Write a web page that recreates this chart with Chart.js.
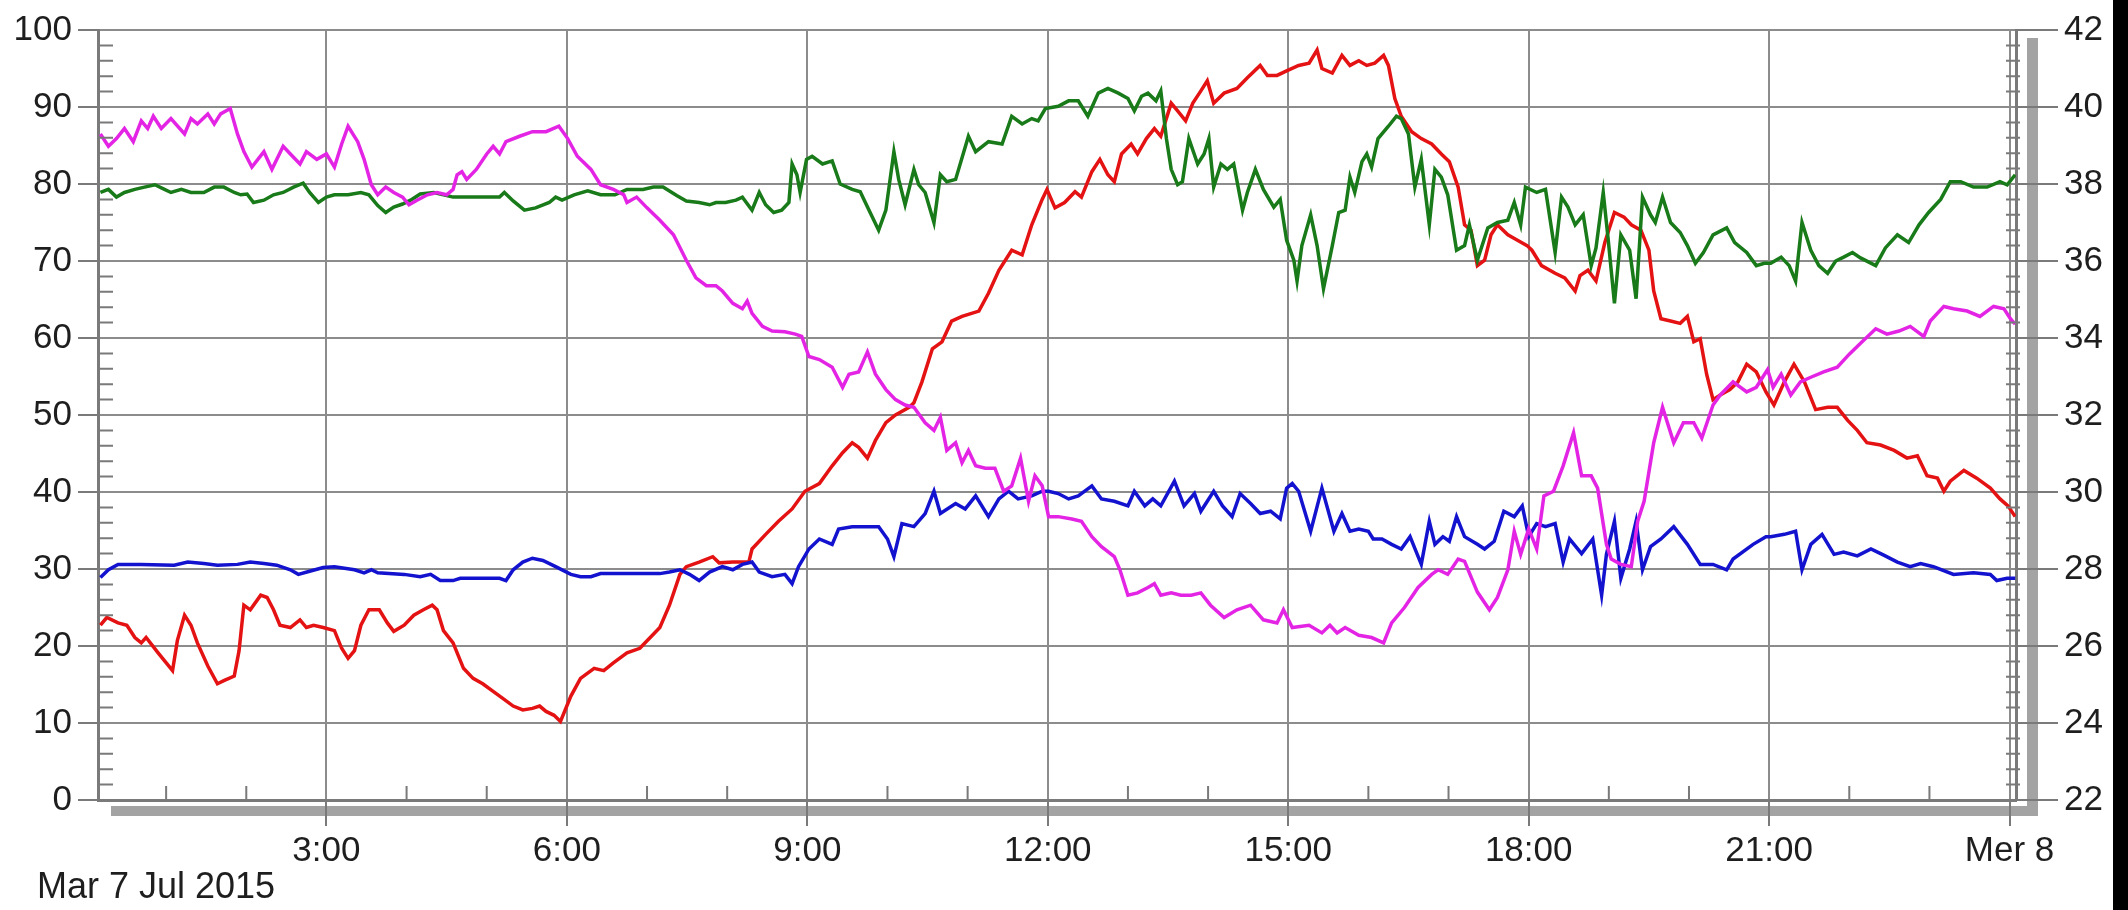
<!DOCTYPE html>
<html>
<head>
<meta charset="utf-8">
<script src="https://cdn.jsdelivr.net/npm/chart.js@4.4.1/dist/chart.umd.min.js"></script>
<style>
  html, body { margin: 0; padding: 0; background: #fff; }
  #wrap { width: 2128px; height: 910px; }
</style>
</head>
<body>
<div id="wrap"><canvas id="lineChart" width="2128" height="910"></canvas></div>
<script>
// hours of the day (0 = Mar 7 00:00, 24 = Mer 8 00:00) and the values
const hourTicks = [3, 6, 9, 12, 15, 18, 21, 24];
const leftTicks = [0, 10, 20, 30, 40, 50, 60, 70, 80, 90, 100];
const rightTicks = [22, 24, 26, 28, 30, 32, 34, 36, 38, 40, 42];
const dateLabel = 'Mar 7 Jul 2015';

const magenta = [[0.18,86.5],[0.28,84.9],[0.38,85.9],[0.48,87.2],[0.59,85.5],[0.69,88.2],[0.77,87.2],[0.84,88.8],[0.94,87.2],[1.06,88.5],[1.23,86.5],[1.31,88.5],[1.39,87.8],[1.52,89.1],[1.60,87.8],[1.68,89.1],[1.80,89.8],[1.89,86.5],[1.97,84.2],[2.07,82.2],[2.22,84.2],[2.32,81.9],[2.46,84.9],[2.55,83.9],[2.67,82.6],[2.75,84.2],[2.88,83.2],[3.00,83.9],[3.10,82.2],[3.19,85.2],[3.27,87.5],[3.39,85.5],[3.47,83.2],[3.56,79.9],[3.64,78.6],[3.74,79.6],[3.84,78.9],[3.95,78.3],[4.03,77.3],[4.13,77.9],[4.26,78.6],[4.38,78.9],[4.50,78.6],[4.58,79.3],[4.63,81.2],[4.69,81.6],[4.75,80.6],[4.87,81.9],[5.00,83.9],[5.08,84.9],[5.16,83.9],[5.24,85.5],[5.41,86.2],[5.57,86.8],[5.74,86.8],[5.90,87.5],[6.01,85.9],[6.13,83.6],[6.30,81.9],[6.42,79.9],[6.58,79.3],[6.71,78.6],[6.75,77.6],[6.87,78.3],[7.00,76.9],[7.16,75.3],[7.33,73.4],[7.49,70.1],[7.61,67.8],[7.74,66.8],[7.86,66.8],[7.94,66.1],[8.07,64.5],[8.19,63.8],[8.25,64.8],[8.31,63.2],[8.44,61.5],[8.56,60.9],[8.72,60.8],[8.85,60.5],[8.93,60.2],[9.02,57.6],[9.15,57.2],[9.31,56.2],[9.44,53.6],[9.52,55.3],[9.64,55.6],[9.75,58.2],[9.85,55.3],[9.98,53.3],[10.10,52.0],[10.22,51.3],[10.33,51.0],[10.47,49.0],[10.58,48.0],[10.66,49.7],[10.74,45.4],[10.85,46.4],[10.93,43.8],[11.01,45.4],[11.10,43.4],[11.22,43.1],[11.34,43.1],[11.45,40.1],[11.55,40.8],[11.66,44.4],[11.76,38.8],[11.84,42.1],[11.93,40.8],[12.01,36.8],[12.13,36.8],[12.30,36.5],[12.42,36.2],[12.55,34.2],[12.67,32.9],[12.83,31.6],[12.90,29.9],[13.00,26.6],[13.12,26.9],[13.25,27.6],[13.33,28.1],[13.41,26.6],[13.54,26.9],[13.66,26.6],[13.79,26.6],[13.91,26.9],[14.03,25.3],[14.20,23.7],[14.36,24.7],[14.53,25.3],[14.69,23.4],[14.86,23.0],[14.94,24.7],[15.05,22.4],[15.26,22.7],[15.42,21.7],[15.52,22.7],[15.61,21.7],[15.71,22.4],[15.88,21.4],[16.04,21.1],[16.19,20.4],[16.29,23.0],[16.45,25.0],[16.62,27.6],[16.79,29.3],[16.87,29.9],[16.99,29.3],[17.12,31.3],[17.20,31.0],[17.36,27.0],[17.51,24.7],[17.61,26.3],[17.74,29.9],[17.82,34.9],[17.90,31.9],[18.00,35.2],[18.10,32.6],[18.19,39.5],[18.31,40.1],[18.43,43.4],[18.56,47.7],[18.66,42.1],[18.78,42.1],[18.86,40.5],[18.97,33.2],[19.03,31.3],[19.15,30.6],[19.28,30.3],[19.36,36.2],[19.44,38.8],[19.56,46.4],[19.67,51.0],[19.81,46.4],[19.93,49.0],[20.06,49.0],[20.16,47.0],[20.30,51.3],[20.39,52.6],[20.55,54.3],[20.72,53.0],[20.84,53.6],[20.98,55.9],[21.05,53.6],[21.15,55.3],[21.27,52.6],[21.39,54.3],[21.52,54.9],[21.68,55.6],[21.85,56.2],[22.00,57.9],[22.16,59.5],[22.33,61.2],[22.47,60.5],[22.62,60.9],[22.76,61.5],[22.93,60.2],[23.01,62.2],[23.18,64.1],[23.30,63.8],[23.47,63.5],[23.63,62.8],[23.80,64.1],[23.93,63.8],[24.01,62.5],[24.07,61.8]];

const green = [[0.18,78.9],[0.28,79.3],[0.38,78.3],[0.48,78.9],[0.61,79.3],[0.73,79.6],[0.86,79.9],[0.96,79.4],[1.06,78.9],[1.19,79.3],[1.31,78.9],[1.47,78.9],[1.60,79.6],[1.72,79.6],[1.85,78.9],[1.93,78.6],[2.01,78.7],[2.09,77.6],[2.22,77.9],[2.34,78.6],[2.46,78.9],[2.59,79.6],[2.71,80.1],[2.79,78.9],[2.90,77.6],[3.00,78.3],[3.10,78.6],[3.27,78.6],[3.43,78.9],[3.53,78.6],[3.64,77.2],[3.74,76.3],[3.84,77.0],[3.95,77.4],[4.05,77.9],[4.17,78.7],[4.34,78.9],[4.46,78.6],[4.58,78.3],[4.79,78.3],[5.00,78.3],[5.16,78.3],[5.22,78.9],[5.33,77.8],[5.47,76.6],[5.61,76.9],[5.78,77.6],[5.86,78.3],[5.94,77.9],[6.09,78.6],[6.26,79.1],[6.42,78.6],[6.60,78.6],[6.75,79.3],[6.95,79.3],[7.08,79.6],[7.20,79.6],[7.37,78.5],[7.49,77.8],[7.65,77.6],[7.78,77.3],[7.86,77.6],[7.98,77.6],[8.11,77.9],[8.19,78.3],[8.31,76.6],[8.40,78.9],[8.48,77.3],[8.58,76.3],[8.68,76.6],[8.77,77.6],[8.81,82.6],[8.87,81.2],[8.91,78.9],[8.99,83.2],[9.06,83.6],[9.19,82.6],[9.31,83.0],[9.41,80.0],[9.56,79.3],[9.66,79.0],[9.77,76.6],[9.89,74.0],[9.98,76.6],[10.08,84.2],[10.14,80.6],[10.22,77.3],[10.33,81.9],[10.39,79.9],[10.47,78.9],[10.58,75.0],[10.66,81.2],[10.74,80.3],[10.85,80.6],[11.01,86.2],[11.10,84.2],[11.26,85.5],[11.43,85.2],[11.55,88.8],[11.68,87.8],[11.80,88.5],[11.88,88.2],[11.97,89.8],[12.13,90.1],[12.26,90.8],[12.38,90.8],[12.50,88.8],[12.63,91.8],[12.75,92.4],[12.88,91.8],[13.00,91.1],[13.08,89.5],[13.17,91.4],[13.25,91.8],[13.35,90.8],[13.41,92.1],[13.48,85.9],[13.54,81.9],[13.62,79.9],[13.68,80.3],[13.76,85.9],[13.87,82.6],[13.95,83.9],[14.01,85.9],[14.07,79.6],[14.16,82.6],[14.24,81.9],[14.32,82.6],[14.43,76.6],[14.49,78.9],[14.59,81.9],[14.69,79.3],[14.82,77.0],[14.90,78.0],[14.98,72.7],[15.07,70.1],[15.11,67.4],[15.17,72.0],[15.28,76.0],[15.36,72.0],[15.44,66.4],[15.55,72.0],[15.63,76.3],[15.71,76.6],[15.77,80.9],[15.83,78.9],[15.92,82.9],[15.98,83.9],[16.04,82.2],[16.12,85.9],[16.25,87.5],[16.35,88.8],[16.41,88.5],[16.50,86.5],[16.58,79.6],[16.66,83.2],[16.76,74.7],[16.83,81.9],[16.91,80.9],[16.99,78.6],[17.10,71.4],[17.20,72.0],[17.26,74.7],[17.36,70.1],[17.49,74.3],[17.61,75.0],[17.74,75.3],[17.82,77.6],[17.90,74.7],[17.96,79.6],[18.10,78.9],[18.21,79.3],[18.33,71.1],[18.41,78.3],[18.49,77.0],[18.58,74.7],[18.68,76.0],[18.78,69.4],[18.84,71.7],[18.93,78.9],[18.99,73.0],[19.07,64.5],[19.15,73.4],[19.26,71.4],[19.34,65.1],[19.42,78.3],[19.52,76.0],[19.58,75.0],[19.67,78.3],[19.77,75.0],[19.89,73.7],[19.98,72.0],[20.08,69.7],[20.18,71.1],[20.30,73.4],[20.47,74.3],[20.57,72.4],[20.72,71.1],[20.84,69.4],[20.94,69.7],[21.02,69.7],[21.15,70.5],[21.25,69.4],[21.33,67.4],[21.41,75.0],[21.52,71.4],[21.62,69.4],[21.73,68.4],[21.83,70.0],[21.93,70.5],[22.04,71.1],[22.14,70.4],[22.33,69.4],[22.45,71.7],[22.60,73.4],[22.74,72.4],[22.87,74.7],[22.99,76.3],[23.14,78.0],[23.26,80.3],[23.39,80.3],[23.55,79.6],[23.72,79.6],[23.88,80.3],[23.97,79.9],[24.07,81.2]];

const blue = [[0.18,28.9],[0.28,29.9],[0.40,30.6],[0.69,30.6],[1.10,30.5],[1.27,30.9],[1.47,30.7],[1.64,30.5],[1.89,30.6],[2.05,30.9],[2.22,30.7],[2.38,30.5],[2.55,29.9],[2.65,29.3],[2.79,29.7],[2.96,30.2],[3.10,30.3],[3.35,29.9],[3.47,29.5],[3.56,29.9],[3.64,29.5],[3.97,29.3],[4.17,29.0],[4.30,29.3],[4.42,28.5],[4.58,28.5],[4.67,28.8],[5.00,28.8],[5.16,28.8],[5.24,28.5],[5.33,29.9],[5.45,30.9],[5.57,31.4],[5.70,31.1],[5.86,30.3],[6.05,29.3],[6.17,29.0],[6.30,29.0],[6.42,29.4],[6.75,29.4],[7.16,29.4],[7.28,29.6],[7.41,29.9],[7.53,29.3],[7.65,28.5],[7.78,29.6],[7.94,30.3],[8.07,29.9],[8.19,30.6],[8.31,30.9],[8.40,29.6],[8.56,29.0],[8.72,29.3],[8.81,28.1],[8.89,30.3],[9.02,32.6],[9.15,33.9],[9.31,33.2],[9.39,35.2],[9.56,35.5],[9.73,35.5],[9.89,35.5],[10.00,33.9],[10.08,31.6],[10.18,35.9],[10.33,35.5],[10.47,37.2],[10.58,40.1],[10.66,37.2],[10.85,38.5],[10.97,37.8],[11.10,39.5],[11.26,36.8],[11.39,39.1],[11.51,40.1],[11.63,39.1],[11.80,39.5],[11.93,40.1],[12.01,40.1],[12.13,39.8],[12.26,39.1],[12.38,39.5],[12.55,40.8],[12.67,39.1],[12.83,38.8],[13.00,38.2],[13.08,40.1],[13.21,38.2],[13.31,39.1],[13.41,38.2],[13.58,41.4],[13.70,38.2],[13.83,39.8],[13.91,37.5],[14.07,40.1],[14.18,38.2],[14.30,36.8],[14.40,39.8],[14.53,38.5],[14.65,37.2],[14.78,37.5],[14.90,36.5],[14.98,40.5],[15.05,41.1],[15.13,40.1],[15.28,34.9],[15.42,40.5],[15.57,34.9],[15.67,37.2],[15.77,34.9],[15.88,35.2],[16.00,34.9],[16.06,33.9],[16.17,33.9],[16.29,33.2],[16.41,32.6],[16.52,34.2],[16.66,30.6],[16.76,36.2],[16.83,33.2],[16.93,34.2],[17.01,33.6],[17.10,36.8],[17.20,34.2],[17.36,33.2],[17.45,32.6],[17.57,33.6],[17.69,37.5],[17.82,36.8],[17.92,38.2],[18.00,34.2],[18.10,35.9],[18.21,35.5],[18.33,35.9],[18.43,30.9],[18.51,33.9],[18.66,32.0],[18.80,33.9],[18.91,26.6],[18.97,31.9],[19.07,36.2],[19.15,28.8],[19.26,32.6],[19.34,36.2],[19.42,29.9],[19.52,32.9],[19.65,33.9],[19.81,35.5],[19.98,33.2],[20.14,30.6],[20.30,30.6],[20.47,29.9],[20.55,31.3],[20.80,33.2],[20.96,34.2],[21.02,34.2],[21.19,34.5],[21.33,34.9],[21.41,29.9],[21.52,33.2],[21.66,34.5],[21.81,31.9],[21.93,32.2],[22.10,31.7],[22.27,32.6],[22.43,31.8],[22.60,30.9],[22.76,30.3],[22.89,30.7],[23.05,30.3],[23.30,29.3],[23.55,29.5],[23.76,29.3],[23.84,28.5],[23.97,28.8],[24.07,28.8]];

const red = [[0.18,22.7],[0.26,23.7],[0.40,23.0],[0.51,22.7],[0.61,21.1],[0.69,20.4],[0.75,21.1],[0.90,19.1],[1.08,16.8],[1.14,20.7],[1.23,24.0],[1.31,22.7],[1.39,20.4],[1.52,17.4],[1.64,15.1],[1.72,15.5],[1.85,16.1],[1.91,19.4],[1.97,25.3],[2.05,24.7],[2.18,26.6],[2.26,26.3],[2.34,24.7],[2.42,22.7],[2.55,22.4],[2.67,23.4],[2.75,22.4],[2.84,22.7],[2.96,22.4],[3.10,22.0],[3.19,19.7],[3.27,18.4],[3.35,19.4],[3.43,22.7],[3.53,24.7],[3.66,24.7],[3.76,23.0],[3.84,21.9],[3.97,22.7],[4.09,24.0],[4.21,24.7],[4.32,25.3],[4.38,24.7],[4.46,22.0],[4.58,20.4],[4.71,17.1],[4.83,15.8],[4.95,15.1],[5.08,14.1],[5.20,13.2],[5.33,12.2],[5.45,11.7],[5.57,11.9],[5.66,12.2],[5.74,11.5],[5.84,11.0],[5.92,10.2],[6.05,13.5],[6.17,15.8],[6.34,17.1],[6.46,16.8],[6.58,17.8],[6.75,19.1],[6.91,19.7],[7.04,21.1],[7.16,22.4],[7.28,25.3],[7.41,29.3],[7.49,30.3],[7.65,30.9],[7.82,31.6],[7.90,30.8],[8.07,30.9],[8.27,30.9],[8.31,32.6],[8.48,34.5],[8.64,36.2],[8.81,37.8],[8.97,40.1],[9.15,41.1],[9.31,43.4],[9.44,45.1],[9.56,46.4],[9.64,45.8],[9.75,44.4],[9.85,46.7],[9.98,49.0],[10.10,50.0],[10.27,51.0],[10.33,51.6],[10.43,54.3],[10.56,58.6],[10.68,59.5],[10.80,62.2],[10.93,62.8],[11.14,63.5],[11.26,65.8],[11.39,68.8],[11.55,71.4],[11.68,70.8],[11.80,74.7],[11.93,78.0],[11.99,79.3],[12.09,76.9],[12.21,77.6],[12.34,79.0],[12.42,78.3],[12.55,81.6],[12.65,83.2],[12.75,81.2],[12.83,80.3],[12.92,83.9],[13.04,85.2],[13.12,83.9],[13.23,85.9],[13.33,87.2],[13.41,86.2],[13.54,90.5],[13.62,89.5],[13.72,88.2],[13.81,90.5],[13.91,92.1],[13.99,93.4],[14.07,90.5],[14.20,91.8],[14.36,92.4],[14.49,93.8],[14.65,95.4],[14.74,94.1],[14.86,94.1],[14.98,94.7],[15.13,95.4],[15.26,95.7],[15.36,97.4],[15.42,95.0],[15.55,94.4],[15.67,96.7],[15.77,95.4],[15.88,96.0],[15.98,95.4],[16.08,95.7],[16.19,96.7],[16.25,95.4],[16.33,91.1],[16.41,88.8],[16.54,86.8],[16.66,85.9],[16.79,85.2],[16.91,83.9],[17.01,82.9],[17.12,79.6],[17.20,74.7],[17.28,74.0],[17.36,69.4],[17.45,70.1],[17.53,73.4],[17.61,74.7],[17.74,73.4],[17.86,72.7],[17.98,72.0],[18.04,71.4],[18.16,69.4],[18.33,68.4],[18.45,67.8],[18.58,66.1],[18.64,68.1],[18.74,68.8],[18.84,67.4],[18.95,72.4],[19.07,76.3],[19.19,75.7],[19.28,74.7],[19.40,74.0],[19.50,71.4],[19.56,66.1],[19.65,62.5],[19.77,62.2],[19.89,61.9],[19.98,62.8],[20.06,59.5],[20.14,59.9],[20.22,55.3],[20.30,52.0],[20.39,52.6],[20.51,53.3],[20.61,54.3],[20.72,56.6],[20.84,55.6],[20.96,53.0],[21.06,51.3],[21.19,54.3],[21.31,56.6],[21.44,54.3],[21.58,50.7],[21.73,51.0],[21.85,51.0],[21.98,49.3],[22.10,48.0],[22.22,46.4],[22.39,46.1],[22.56,45.4],[22.72,44.4],[22.85,44.7],[22.97,42.1],[23.10,41.8],[23.18,40.1],[23.26,41.4],[23.43,42.8],[23.59,41.8],[23.76,40.5],[23.88,39.1],[23.98,38.2],[24.07,36.8]];

const toPoints = arr => arr.map(p => ({ x: p[0], y: p[1] }));

const textColor = '#1e1e1e';
const gridColor = '#8c8c8c';
const frameColor = '#7a7a7a';
const labelFont = { family: '"Liberation Sans", Arial, sans-serif', size: 35 };

// shadow, black strip on the right, minor ticks and the date under the axis
const decorPlugin = {
    id: 'decor',
    beforeDraw(chart) {
        const { ctx, chartArea: a } = chart;
        ctx.save();
        ctx.fillStyle = '#ffffff';
        ctx.fillRect(0, 0, chart.width, chart.height);
        ctx.fillStyle = '#a3a3a3';
        ctx.fillRect(a.left + 13, a.bottom + 6, a.right - a.left + 9, 10);
        ctx.fillRect(a.right + 11, a.top + 8, 11, a.bottom - a.top + 8);
        ctx.fillStyle = '#000000';
        ctx.fillRect(2113, 0, 15, chart.height);
        ctx.restore();
    },
    afterDraw(chart) {
        const { ctx, chartArea: a, scales } = chart;
        ctx.save();
        ctx.strokeStyle = frameColor;
        ctx.lineWidth = 2;
        ctx.beginPath();
        // hourly minor ticks on the bottom
        for (let h = 1; h < 24; h++) {
            if (h % 3 === 0) continue;
            const px = scales.x.getPixelForValue(h);
            ctx.moveTo(px, a.bottom);
            ctx.lineTo(px, a.bottom - 14);
        }
        // left minor ticks every 2
        for (let v = 2; v < 100; v += 2) {
            if (v % 10 === 0) continue;
            const py = scales.y.getPixelForValue(v);
            ctx.moveTo(a.left, py);
            ctx.lineTo(a.left + 15, py);
        }
        // right minor ticks every 0.4
        for (let i = 1; i < 50; i++) {
            if (i % 5 === 0) continue;
            const py = scales.y2.getPixelForValue(22 + i * 0.4);
            ctx.moveTo(a.right - 10, py);
            ctx.lineTo(a.right + 4, py);
        }
        ctx.stroke();

        ctx.fillStyle = textColor;
        ctx.font = '36px "Liberation Sans", Arial, sans-serif';
        ctx.textAlign = 'left';
        ctx.textBaseline = 'alphabetic';
        ctx.fillText(dateLabel, 37, 898);
        ctx.restore();
    }
};

const lineStyle = (label, color, arr) => ({
    label: label,
    data: toPoints(arr),
    borderColor: color,
    backgroundColor: color,
    borderWidth: 3.5,
    pointRadius: 0,
    tension: 0,
    yAxisID: 'y'
});

const ctx = document.getElementById('lineChart').getContext('2d');

const config = {
    type: 'line',
    data: {
        datasets: [
            lineStyle('magenta', '#e424e4', magenta),
            lineStyle('green', '#187a18', green),
            lineStyle('blue', '#1212cf', blue),
            lineStyle('red', '#e41212', red)
        ]
    },
    options: {
        responsive: false,
        animation: false,
        devicePixelRatio: 1,
        layout: { padding: { top: 30, left: 0, right: 0, bottom: 0 } },
        plugins: {
            legend: { display: false },
            tooltip: { enabled: false }
        },
        scales: {
            x: {
                type: 'linear',
                position: 'bottom',
                min: 0.15,
                max: 24.08,
                afterBuildTicks: scale => { scale.ticks = hourTicks.map(v => ({ value: v })); },
                afterFit: scale => { scale.height = 110; },
                ticks: {
                    color: textColor,
                    font: labelFont,
                    padding: 4,
                    maxRotation: 0,
                    autoSkip: false,
                    callback: v => (v === 24 ? 'Mer 8' : v + ':00')
                },
                grid: { color: gridColor, lineWidth: 2, tickLength: 26, tickColor: frameColor },
                border: { color: frameColor, width: 3 }
            },
            y: {
                position: 'left',
                min: 0,
                max: 100,
                afterBuildTicks: scale => { scale.ticks = leftTicks.map(v => ({ value: v })); },
                afterFit: scale => { scale.width = 98; },
                ticks: { color: textColor, font: labelFont, padding: 6 },
                grid: { color: gridColor, lineWidth: 2, tickLength: 20, tickColor: frameColor },
                border: { color: frameColor, width: 3 }
            },
            y2: {
                position: 'right',
                min: 22,
                max: 42,
                afterBuildTicks: scale => { scale.ticks = rightTicks.map(v => ({ value: v })); },
                afterFit: scale => { scale.width = 112; },
                ticks: { color: textColor, font: labelFont, padding: 6 },
                grid: { drawOnChartArea: false, tickLength: 42, tickColor: frameColor, lineWidth: 2 },
                border: { color: frameColor, width: 3 }
            }
        }
    },
    plugins: [decorPlugin]
};

const lineChart = new Chart(ctx, config);
</script>
</body>
</html>
